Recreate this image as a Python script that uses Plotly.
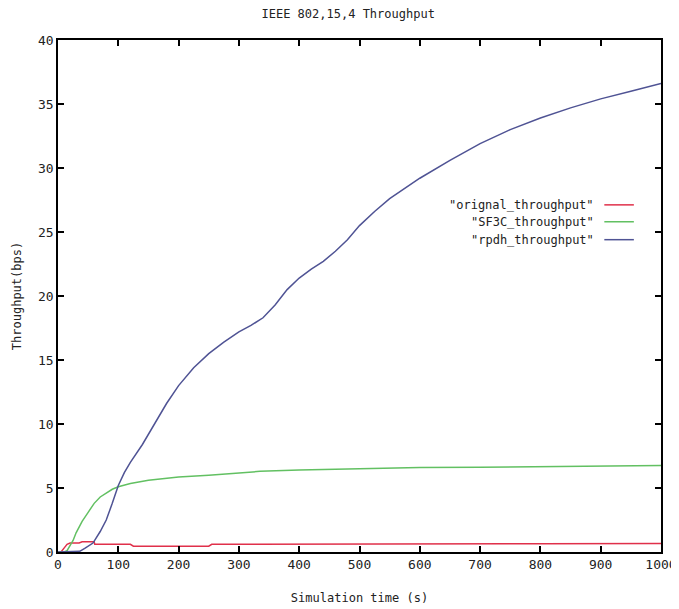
import plotly.graph_objects as go

# simulation time (s) and throughput (bps)
orig_t = [0, 5, 10, 15, 20, 35, 40, 60, 61, 120, 125, 250, 255, 400, 600, 800, 1000]
orig_y = [0, 0, 0.3, 0.6, 0.7, 0.7, 0.8, 0.8, 0.6, 0.6, 0.45, 0.45, 0.6, 0.6, 0.62, 0.64, 0.66]

sf3c_t = [0, 10, 15, 20, 25, 30, 40, 50, 60, 70, 80, 90, 100, 120, 150, 200, 250, 300, 335,
          400, 500, 600, 700, 800, 900, 1000]
sf3c_y = [0, 0, 0.1, 0.5, 0.9, 1.5, 2.4, 3.1, 3.8, 4.3, 4.6, 4.9, 5.1, 5.35, 5.6, 5.85, 6.0,
          6.15, 6.3, 6.4, 6.5, 6.6, 6.62, 6.68, 6.7, 6.75]

rpdh_t = [0, 20, 30, 36, 45, 58, 70, 80, 90, 100, 110, 120, 140, 160, 180, 200, 225, 250, 275,
          300, 320, 340, 360, 380, 400, 420, 440, 460, 480, 500, 525, 550, 575, 600, 650, 700,
          750, 800, 850, 900, 950, 1000]
rpdh_y = [0, 0, 0, 0.05, 0.3, 0.7, 1.6, 2.5, 3.8, 5.2, 6.2, 7.0, 8.4, 10.0, 11.6, 13.0, 14.4,
          15.5, 16.4, 17.2, 17.7, 18.3, 19.3, 20.5, 21.4, 22.1, 22.7, 23.5, 24.4, 25.5, 26.6,
          27.6, 28.4, 29.2, 30.6, 31.9, 33.0, 33.9, 34.7, 35.4, 36.0, 36.6]

x_ticks = [0, 100, 200, 300, 400, 500, 600, 700, 800, 900, 1000]
y_ticks = [0, 5, 10, 15, 20, 25, 30, 35, 40]

series = [
    ('"orignal_throughput"', orig_t, orig_y, "#e0304a"),
    ('"SF3C_throughput"', sf3c_t, sf3c_y, "#62c062"),
    ('"rpdh_throughput"', rpdh_t, rpdh_y, "#4f5394"),
]

FONT = "DejaVu Sans Mono"
TXT = dict(family=FONT, size=12, color="#222")

fig = go.Figure()
for name, t, y, col in series:
    fig.add_trace(go.Scatter(x=t, y=y, mode="lines", name=name,
                             line=dict(color=col, width=1.5), showlegend=False))

# gnuplot-style key: text right-aligned, sample line to the right
key_y = [0.678, 0.645, 0.610]
for (name, t, y, col), ky in zip(series, key_y):
    fig.add_annotation(x=0.893, y=ky, xref="paper", yref="paper", text=name,
                       showarrow=False, xanchor="right", yanchor="middle", font=TXT)
    fig.add_shape(type="line", xref="paper", yref="paper", x0=0.906, x1=0.955,
                  y0=ky, y1=ky, line=dict(color=col, width=1.5))

axis_common = dict(showgrid=False, zeroline=False, showline=True, linecolor="black",
                   linewidth=1.5, mirror="allticks", ticks="inside", ticklen=6,
                   tickcolor="black", tickwidth=1.5, automargin=False,
                   ticklabeloverflow="allow",
                   tickfont=dict(family=FONT, size=13, color="#222"))

fig.update_xaxes(range=[0, 1000], tickmode="array", tickvals=x_ticks,
                 title=dict(text="Simulation time (s)", font=TXT, standoff=22),
                 **axis_common)
fig.update_yaxes(range=[0, 40], tickmode="array", tickvals=y_ticks,
                 title=dict(text="Throughput(bps)", font=TXT, standoff=14),
                 **axis_common)

# page body adds an 8px margin, so the figure is a bit smaller than the window
fig.update_layout(
    width=671, height=601,
    paper_bgcolor="white", plot_bgcolor="white",
    margin=dict(l=50, r=18, t=32, b=57),
    title=dict(text="IEEE 802,15,4 Throughput", x=0.507, xanchor="center",
               y=0.99, yanchor="middle", font=TXT, automargin=False),
)

fig.write_html("out.html")
